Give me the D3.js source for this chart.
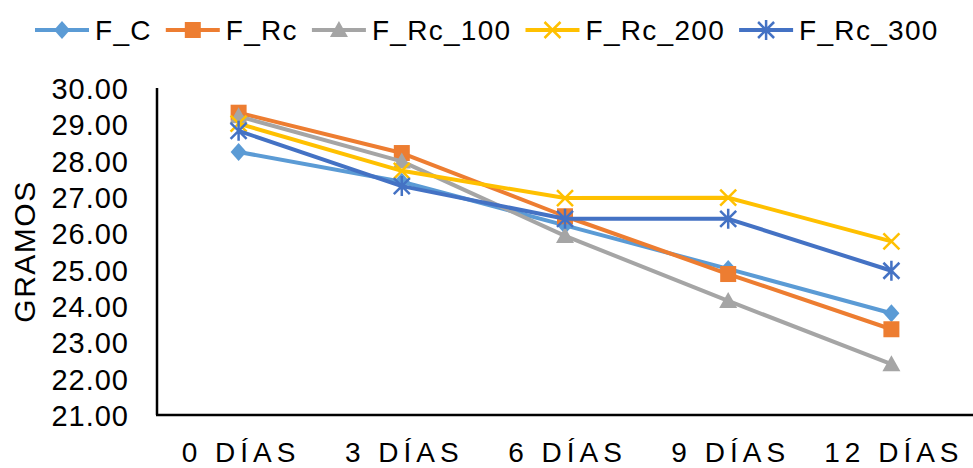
<!DOCTYPE html>
<html>
<head>
<meta charset="utf-8">
<script src="https://cdn.jsdelivr.net/npm/d3@7"></script>
<style>
  body { margin: 0; background: #fff; }
  text { font-family: "Liberation Sans", Arial, sans-serif; fill: #000; }
</style>
</head>
<body>
<div id="chart"></div>
<script>
// Data
const categories = ['0 DÍAS', '3 DÍAS', '6 DÍAS', '9 DÍAS', '12 DÍAS']
const seriesNames = ['F_C', 'F_Rc', 'F_Rc_100', 'F_Rc_200', 'F_Rc_300']
const fC = [28.24, 27.42, 26.22, 25.02, 23.80]
const fRc = [29.32, 28.21, 26.47, 24.88, 23.36]
const fRc100 = [29.22, 27.98, 25.93, 24.14, 22.40]
const fRc200 = [29.02, 27.72, 26.97, 26.98, 25.78]
const fRc300 = [28.82, 27.30, 26.40, 26.40, 24.97]
const yTicks = [21, 22, 23, 24, 25, 26, 27, 28, 29, 30]

const colors = ['#5B9BD5', '#ED7D31', '#A5A5A5', '#FFC000', '#4472C4']
const markers = ['diamond', 'square', 'triangle', 'x', 'star']
const values = [fC, fRc, fRc100, fRc200, fRc300]

// Dimensions
const dimensions = {
  width: 973,
  height: 468,
  left: 157,
  right: 973,
  top: 88,
  bottom: 415
}

const svg = d3.select('#chart')
  .append('svg')
  .attr('width', dimensions.width)
  .attr('height', dimensions.height)

// scales
const xScale = d3.scalePoint()
  .domain(categories)
  .range([dimensions.left, dimensions.right])
  .padding(0.5)

const yScale = d3.scaleLinear()
  .domain([21, 30])
  .range([dimensions.bottom, dimensions.top])

// axes
const yAxis = d3.axisLeft(yScale)
  .tickValues(yTicks)
  .tickFormat(d3.format('.2f'))
  .tickSize(0)
  .tickPadding(28)

const yAxisGroup = svg.append('g')
  .attr('transform', `translate(${dimensions.left}, 0)`)
  .call(yAxis)

yAxisGroup.select('.domain').remove()
yAxisGroup.selectAll('text')
  .style('font-size', '29px')
  .style('letter-spacing', '1px')
  .attr('dy', '0.36em')

const xAxis = d3.axisBottom(xScale)
  .tickSize(0)
  .tickPadding(27)

const xAxisGroup = svg.append('g')
  .attr('transform', `translate(0, ${dimensions.bottom})`)
  .call(xAxis)

xAxisGroup.select('.domain').remove()
xAxisGroup.selectAll('text')
  .style('font-size', '28px')
  .style('letter-spacing', '5px')
  .attr('dx', '2px')

// axis lines
svg.append('line')
  .attr('x1', dimensions.left).attr('x2', dimensions.left)
  .attr('y1', dimensions.top).attr('y2', dimensions.bottom)
  .attr('stroke', '#000').attr('stroke-width', 2.5)

svg.append('line')
  .attr('x1', dimensions.left - 1).attr('x2', dimensions.right)
  .attr('y1', dimensions.bottom).attr('y2', dimensions.bottom)
  .attr('stroke', '#000').attr('stroke-width', 2.5)

// y title
svg.append('text')
  .attr('transform', `translate(35, ${(dimensions.top + dimensions.bottom) / 2}) rotate(-90)`)
  .attr('text-anchor', 'middle')
  .style('font-size', '30px')
  .style('letter-spacing', '1.5px')
  .text('GRAMOS')

// markers
function drawMarker(g, type, color) {
  if (type === 'diamond') {
    g.append('path').attr('d', 'M0,-9L8,0L0,9L-8,0Z').attr('fill', color)
  } else if (type === 'square') {
    g.append('rect').attr('x', -8).attr('y', -8).attr('width', 16).attr('height', 16).attr('fill', color)
  } else if (type === 'triangle') {
    g.append('path').attr('d', 'M0,-9L9,7L-9,7Z').attr('fill', color)
  } else if (type === 'x') {
    g.append('path').attr('d', 'M-8,-8L8,8M-8,8L8,-8')
      .attr('stroke', color).attr('stroke-width', 2.5).attr('fill', 'none')
  } else if (type === 'star') {
    g.append('path').attr('d', 'M-8,-8L8,8M-8,8L8,-8M0,-10L0,10')
      .attr('stroke', color).attr('stroke-width', 2.5).attr('fill', 'none')
  }
}

const line = d3.line()
  .x((d, i) => xScale(categories[i]))
  .y(d => yScale(d))

values.forEach((vals, s) => {
  const g = svg.append('g')
  g.append('path')
    .datum(vals)
    .attr('d', line)
    .attr('fill', 'none')
    .attr('stroke', colors[s])
    .attr('stroke-width', 4)
    .attr('stroke-linejoin', 'round')

  g.selectAll('g.mk')
    .data(vals)
    .join('g')
    .classed('mk', true)
    .attr('transform', (d, i) => `translate(${xScale(categories[i])}, ${yScale(d)})`)
    .each(function () { drawMarker(d3.select(this), markers[s], colors[s]) })
})

// legend
const legend = svg.append('g')
let lx = 35
seriesNames.forEach((name, s) => {
  const item = legend.append('g').attr('transform', `translate(${lx}, 30)`)
  item.append('line')
    .attr('x1', 0).attr('x2', 54)
    .attr('stroke', colors[s]).attr('stroke-width', 4)
  const mk = item.append('g').attr('transform', 'translate(27, 0)')
  drawMarker(mk, markers[s], colors[s])
  const t = item.append('text')
    .attr('x', 60)
    .attr('y', 10)
    .style('font-size', '28px')
    .style('letter-spacing', '1.3px')
    .text(name)
  lx += 60 + t.node().getComputedTextLength() + 14
})
</script>
</body>
</html>
